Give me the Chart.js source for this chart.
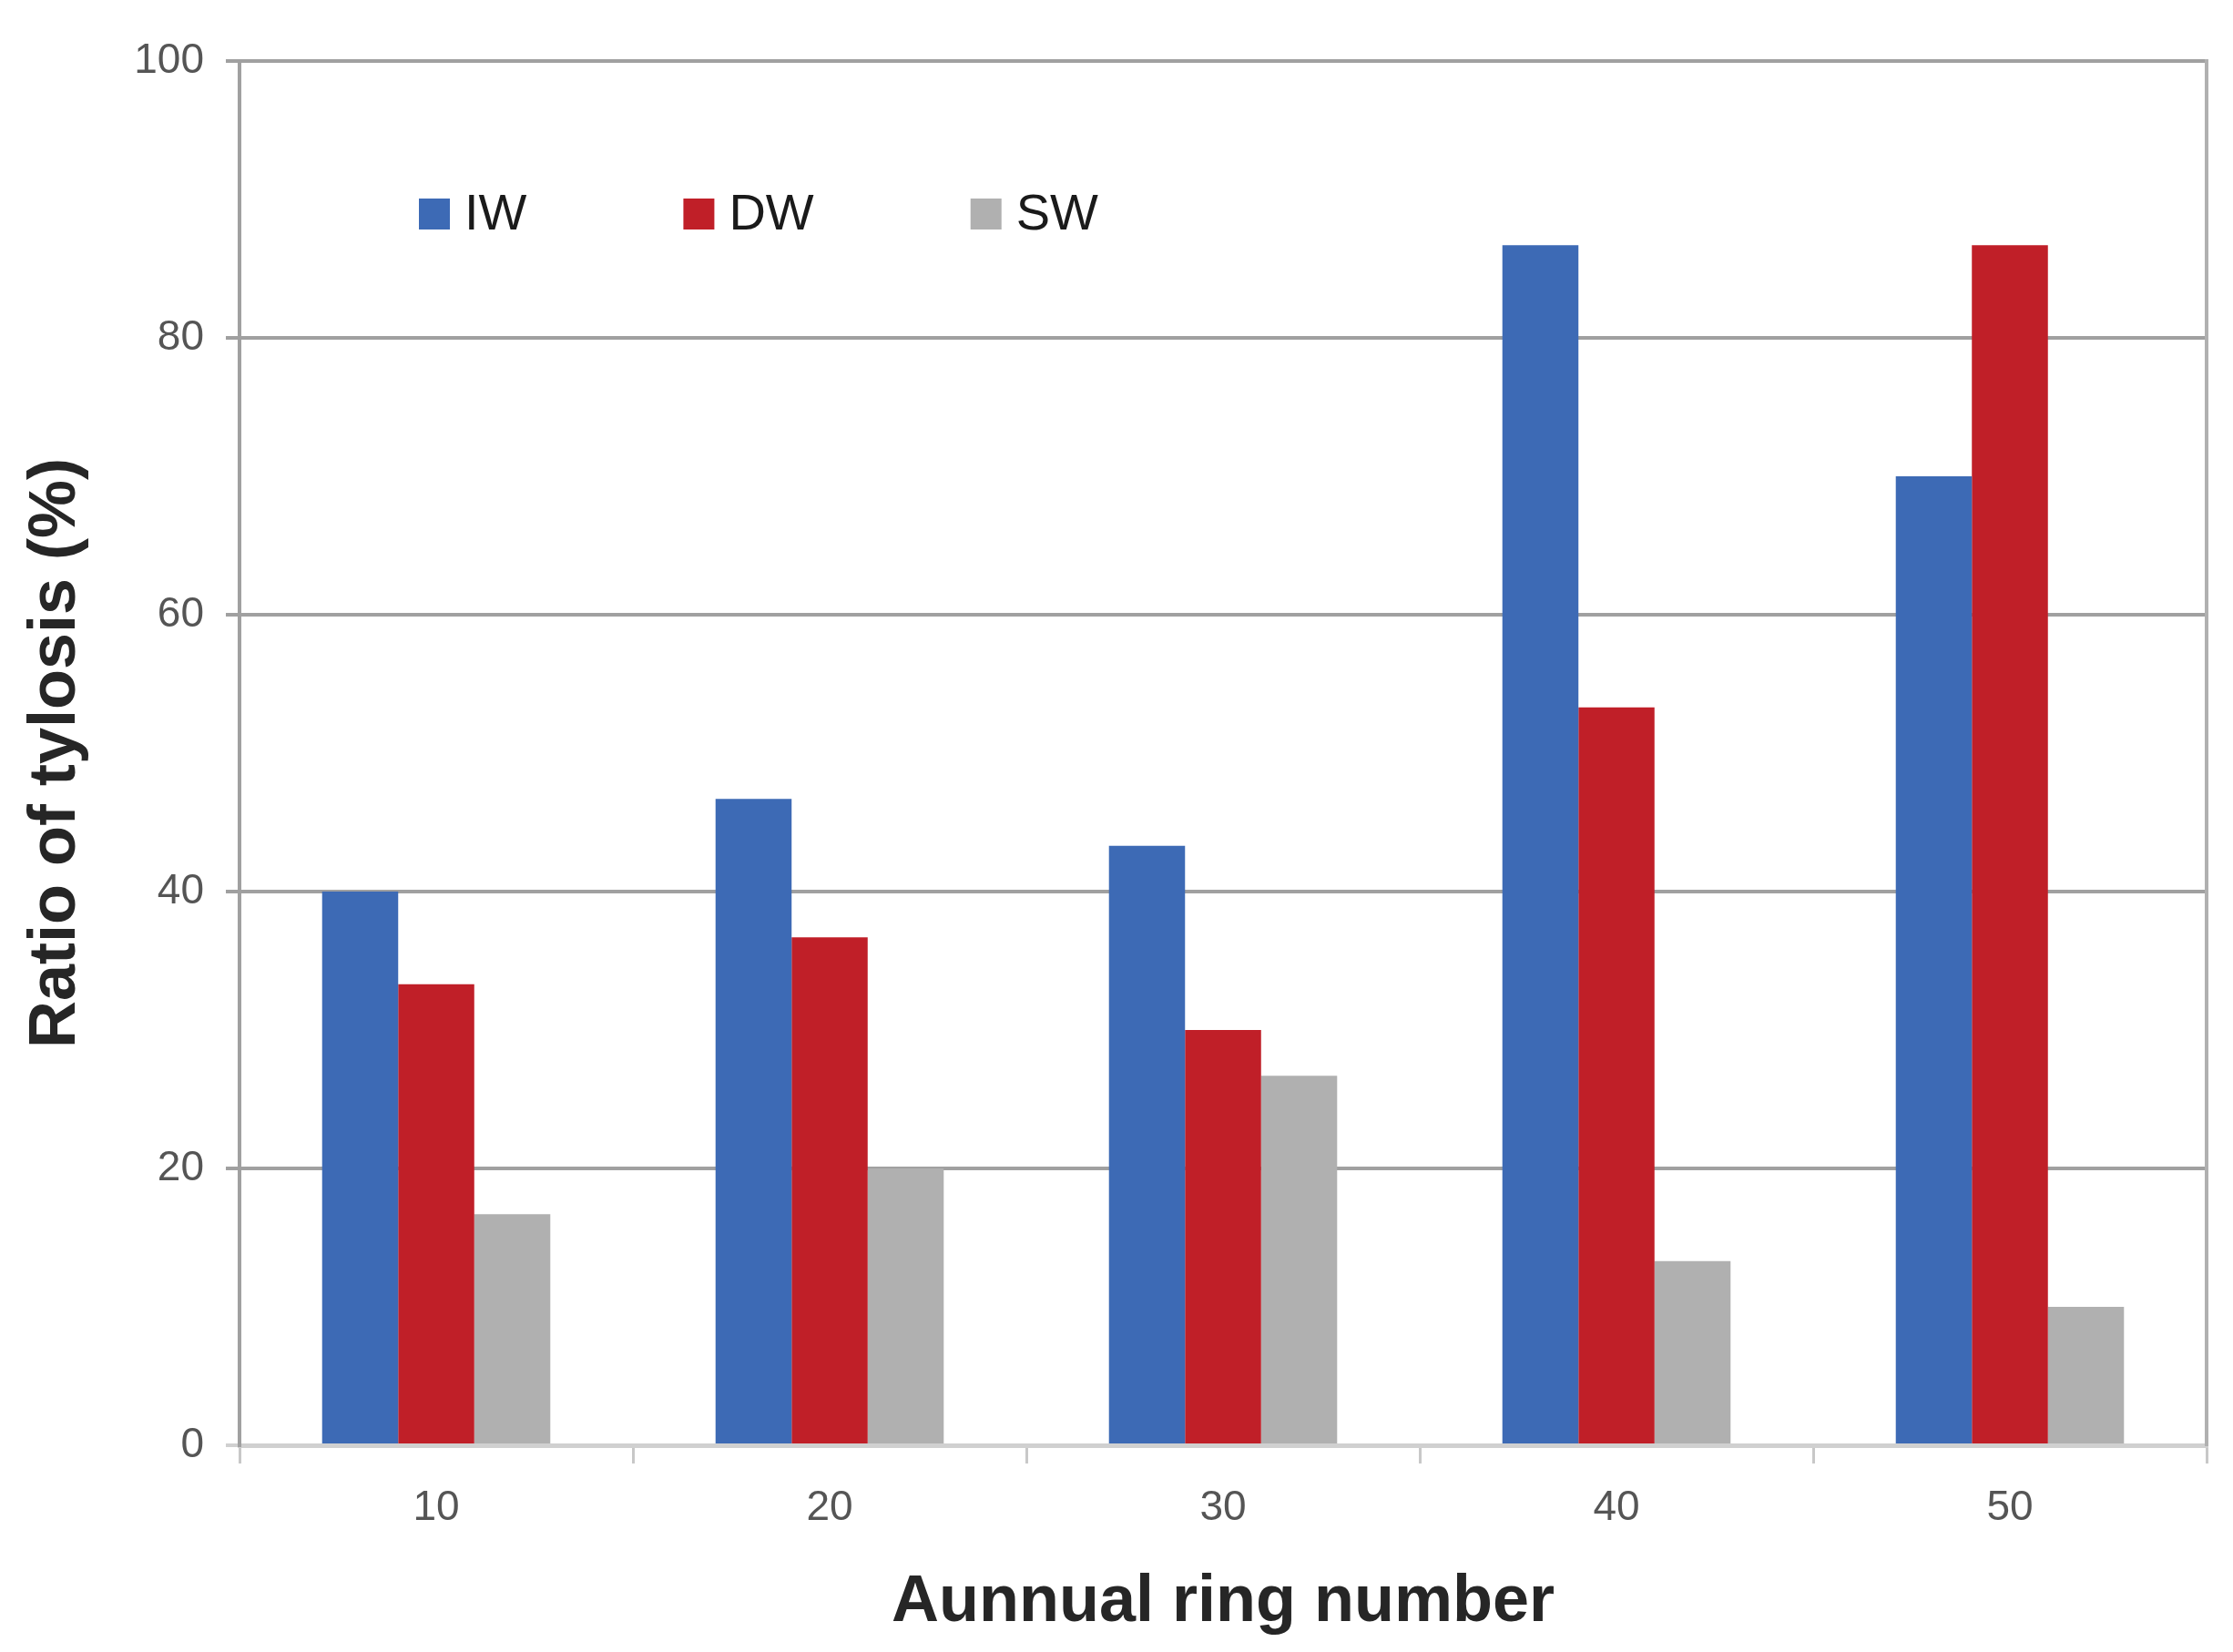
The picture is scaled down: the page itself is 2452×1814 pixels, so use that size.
<!DOCTYPE html>
<html>
<head>
<meta charset="utf-8">
<script src="https://cdn.jsdelivr.net/npm/chart.js@4"></script>
<style>
  html, body { margin: 0; padding: 0; background: #fff; }
</style>
</head>
<body>
<canvas id="chart" width="2452" height="1814"></canvas>
<script>
const ringNumbers = ["10", "20", "30", "40", "50"];
const iwRatio = [40, 46.7, 43.3, 86.7, 70];
const dwRatio = [33.3, 36.7, 30, 53.3, 86.7];
const swRatio = [16.7, 20, 26.7, 13.3, 10];
const yTicks = [0, 20, 40, 60, 80, 100];

const FONT = "'Liberation Sans', Arial, sans-serif";

// legend sits inside the plot, so draw it ourselves
const insideLegend = {
  id: "insideLegend",
  afterDraw(chart) {
    const ctx = chart.ctx;
    const area = chart.chartArea;
    ctx.save();
    ctx.font = "56px " + FONT;
    ctx.textBaseline = "middle";
    let x = area.left + 197;
    const y = area.top + 168;
    chart.data.datasets.forEach((ds) => {
      ctx.fillStyle = ds.backgroundColor;
      ctx.fillRect(x, y - 17, 34, 34);
      ctx.fillStyle = "#1a1a1a";
      ctx.fillText(ds.label, x + 50, y + 2);
      x += 50 + ctx.measureText(ds.label).width + 172;
    });
    ctx.restore();
  },
};

new Chart(document.getElementById("chart"), {
  type: "bar",
  data: {
    labels: ringNumbers,
    datasets: [
      { label: "IW", data: iwRatio, backgroundColor: "#3d6ab5" },
      { label: "DW", data: dwRatio, backgroundColor: "#c01f28" },
      { label: "SW", data: swRatio, backgroundColor: "#b0b0b0" },
    ],
  },
  options: {
    responsive: false,
    animation: false,
    layout: { padding: { top: 67, right: 29, left: 0, bottom: 0 } },
    datasets: { bar: { categoryPercentage: 0.58, barPercentage: 1 } },
    plugins: { legend: { display: false }, tooltip: { enabled: false } },
    scales: {
      x: {
        ticks: { color: "#555555", font: { family: FONT, size: 46 }, padding: 22 },
        grid: { drawOnChartArea: false, offset: true, color: "#c8c8c8", lineWidth: 3, tickLength: 20 },
        border: { color: "#d0d0d0", width: 5 },
        title: {
          display: true,
          text: "Aunnual ring number",
          color: "#262626",
          font: { family: FONT, size: 72, weight: "bold" },
          padding: { top: 0, bottom: 11 },
        },
        afterFit(scale) { scale.height = 227; },
      },
      y: {
        min: 0,
        max: 100,
        afterBuildTicks(scale) { scale.ticks = yTicks.map((v) => ({ value: v })); },
        ticks: { color: "#555555", font: { family: FONT, size: 46 }, padding: 24 },
        grid: {
          color: (c) => (c.tick && c.tick.value === 0 ? "#d0d0d0" : "#a0a0a0"),
          lineWidth: 4,
          tickLength: 15,
        },
        border: { color: "#a0a0a0", width: 4 },
        title: {
          display: true,
          text: "Ratio of tylosis (%)",
          color: "#262626",
          font: { family: FONT, size: 72, weight: "bold" },
          padding: { top: 19, bottom: 0 },
        },
        afterFit(scale) { scale.width = 263; },
      },
      y2: {
        position: "right",
        min: 0,
        max: 100,
        ticks: { display: false },
        grid: { display: false, drawTicks: false },
        border: { display: true, color: "#b0b0b0", width: 4 },
        afterFit(scale) { scale.width = 0; },
      },
    },
  },
  plugins: [insideLegend],
});
</script>
</body>
</html>
